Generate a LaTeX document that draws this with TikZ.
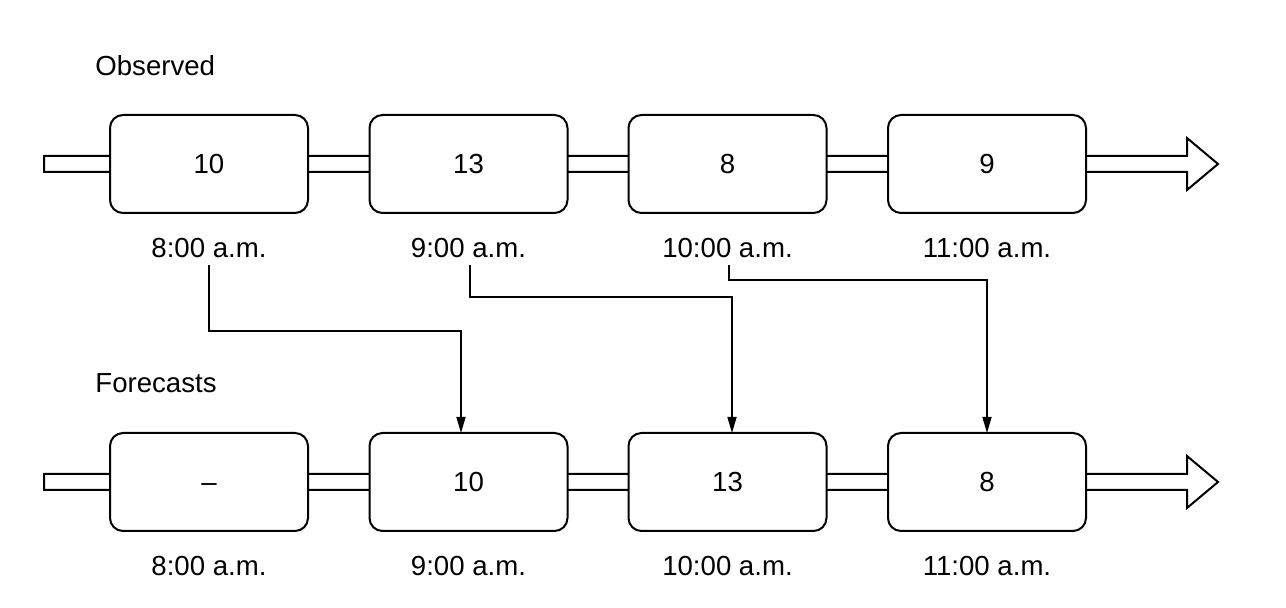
\documentclass[tikz,border=0pt]{standalone}
\usepackage{fontspec}
\setmainfont{Liberation Sans}
\usetikzlibrary{arrows.meta}
\begin{document}
\begin{tikzpicture}[x=0.5pt,y=-0.5pt,
  box/.style={draw=black,line width=1pt,fill=white,rounded corners=6.5pt,minimum width=99pt,minimum height=49pt,inner sep=0pt,font=\fontsize{13.8pt}{16pt}\selectfont},
  lbl/.style={inner sep=0pt,font=\fontsize{13.8pt}{16pt}\selectfont},
  bar/.style={draw=black,line width=1pt,fill=white,line join=miter},
  conn/.style={draw=black,line width=0.8pt,-{Triangle[length=8pt,width=4.5pt]}}]
\useasboundingbox (0,0) rectangle (1286,608);
% timeline bars
\draw[bar] (44,156) -- (1187,156) -- (1187,138) -- (1218,164) -- (1187,190) -- (1187,172) -- (44,172) -- cycle;
\draw[bar] (44,474) -- (1187,474) -- (1187,456) -- (1218,482) -- (1187,508) -- (1187,490) -- (44,490) -- cycle;
% titles
\node[lbl,anchor=base west] (obs) at (95,76) {Observed};
\node[lbl,anchor=base west] (fc) at (95,393) {Forecasts};
% observed boxes
\node[box] (o1) at (209,164) {10};
\node[box] (o2) at (468.5,164) {13};
\node[box] (o3) at (727.5,164) {8};
\node[box] (o4) at (987,164) {9};
\node[lbl] (t1) at (209,248) {8:00 a.m.};
\node[lbl] (t2) at (468.5,248) {9:00 a.m.};
\node[lbl] (t3) at (727.5,248) {10:00 a.m.};
\node[lbl] (t4) at (987,248) {11:00 a.m.};
% forecast boxes
\node[box] (f1) at (209,482) {\vphantom{0}--};
\node[box] (f2) at (468.5,482) {10};
\node[box] (f3) at (727.5,482) {13};
\node[box] (f4) at (987,482) {8};
\node[lbl] (u1) at (209,566) {8:00 a.m.};
\node[lbl] (u2) at (468.5,566) {9:00 a.m.};
\node[lbl] (u3) at (727.5,566) {10:00 a.m.};
\node[lbl] (u4) at (987,566) {11:00 a.m.};
% connectors
\coordinate (s1) at (209,265);
\coordinate (s2) at (470,265);
\coordinate (s3) at (729,265);
\coordinate (e1) at (461,433);
\coordinate (e2) at (732,433);
\coordinate (e3) at (987,433);
\draw[conn] (s1) -- (209,331) -| (e1);
\draw[conn] (s2) -- (470,297) -| (e2);
\draw[conn] (s3) -- (729,280) -| (e3);
\end{tikzpicture}
\end{document}
